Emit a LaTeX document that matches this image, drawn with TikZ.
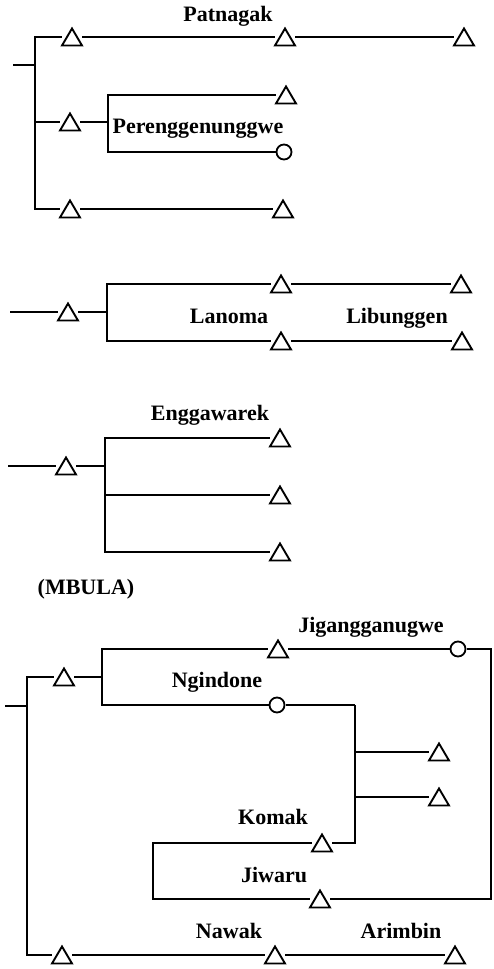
\documentclass[tikz,border=0pt]{standalone}
\usepackage{fontspec}
\setmainfont{Liberation Serif}
\usetikzlibrary{shapes.geometric}
\begin{document}
\begin{tikzpicture}[x=1pt, y=-1pt, line width=1.4pt,
  tri/.style={minimum width=19pt, minimum height=16pt, inner sep=0pt, outer sep=0.5pt,
    append after command={\pgfextra{\draw[line width=1.9pt] (\tikzlastnode.south west) -- (\tikzlastnode.south east) -- (\tikzlastnode.north) -- cycle;}}},
  fem/.style={draw, circle, minimum size=15pt, inner sep=0pt, outer sep=1pt, line width=1.8pt},
  lbl/.style={anchor=base, inner sep=0pt, font=\bfseries\fontsize{22}{26}\selectfont}]
\useasboundingbox (0,0) rectangle (493,969);

\coordinate (r1) at (13,65);
\coordinate (j1) at (35,65);
\node (1)[tri] at (72,37) {};
\node (2)[tri] at (285,37) {};
\node (3)[tri] at (464,37) {};
\node (4)[tri] at (70,122) {};
\coordinate (j2) at (108,122);
\node (5)[tri] at (286,95) {};
\node (6)[fem] at (284,152) {};
\node (7)[tri] at (70,209) {};
\node (8)[tri] at (283,209) {};
\node (l1)[lbl] at (228,21) {Patnagak};
\node (l2)[lbl] at (198,133) {Perenggenunggwe};

\coordinate (r2) at (10,312);
\node (9)[tri] at (68,312) {};
\coordinate (j3) at (107,312);
\node (10)[tri] at (281,284) {};
\node (11)[tri] at (461,284) {};
\node (12)[tri] at (281,341) {};
\node (13)[tri] at (462,341) {};
\node (l3)[lbl] at (229,323) {Lanoma};
\node (l4)[lbl] at (397,323) {Libunggen};

\coordinate (r3) at (8,466);
\node (14)[tri] at (66,466) {};
\coordinate (j4) at (105,466);
\node (15)[tri] at (280,438) {};
\node (16)[tri] at (280,495) {};
\node (17)[tri] at (280,552) {};
\node (l5)[lbl] at (210,420) {Enggawarek};
\node (l6)[lbl] at (86,594) {(MBULA)};

\coordinate (r4) at (5,706);
\coordinate (j5) at (27,706);
\node (18)[tri] at (64,677) {};
\coordinate (j6) at (102,677);
\node (19)[tri] at (278,649) {};
\node (20)[fem] at (458,649) {};
\coordinate (k2) at (491,649);
\node (21)[fem] at (277,705) {};
\coordinate (j7) at (355,705);
\node (22)[tri] at (439,752) {};
\node (23)[tri] at (439,797) {};
\node (24)[tri] at (322,843) {};
\coordinate (k1) at (153,843);
\node (25)[tri] at (320,899) {};
\node (26)[tri] at (62,955) {};
\node (27)[tri] at (275,955) {};
\node (28)[tri] at (455,955) {};
\node (l7)[lbl] at (371,632) {Jigangganugwe};
\node (l8)[lbl] at (217,687) {Ngindone};
\node (l9)[lbl] at (273,824) {Komak};
\node (l10)[lbl] at (274,882) {Jiwaru};
\node (l11)[lbl] at (229,938) {Nawak};
\node (l12)[lbl] at (401,938) {Arimbin};

\draw (r1) -- (j1);
\draw (j1) |- (1);
\draw (j1) |- (4);
\draw (j1) |- (7);
\draw (1) -- (2);
\draw (2) -- (3);
\draw (4) -- (j2);
\draw (j2) |- (5);
\draw (j2) |- (6);
\draw (7) -- (8);
\draw (r2) -- (9);
\draw (9) -- (j3);
\draw (j3) |- (10);
\draw (j3) |- (12);
\draw (10) -- (11);
\draw (12) -- (13);
\draw (r3) -- (14);
\draw (14) -- (j4);
\draw (j4) |- (15);
\draw (j4) |- (16);
\draw (j4) |- (17);
\draw (r4) -- (j5);
\draw (j5) |- (18);
\draw (j5) |- (26);
\draw (18) -- (j6);
\draw (j6) |- (19);
\draw (j6) |- (21);
\draw (19) -- (20);
\draw (20) -- (k2) |- (25);
\draw (21) -- (j7);
\draw (j7) |- (22);
\draw (j7) |- (23);
\draw (j7) |- (24);
\draw (24) -- (k1) |- (25);
\draw (26) -- (27);
\draw (27) -- (28);

\end{tikzpicture}
\end{document}
